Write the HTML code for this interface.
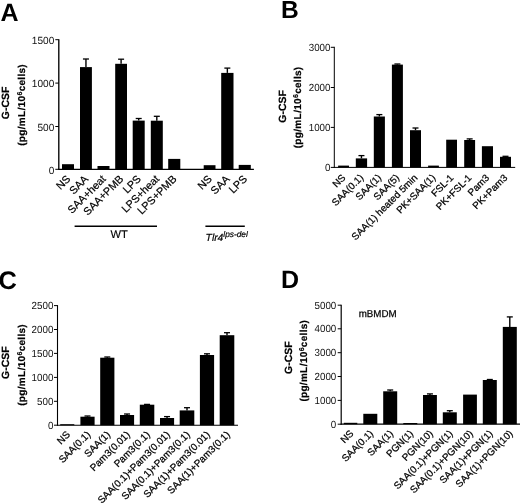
<!DOCTYPE html>
<html><head><meta charset="utf-8"><style>
html,body{margin:0;padding:0;background:#fff;}
svg{display:block;filter:blur(0.45px);}
</style></head><body>
<svg text-rendering="geometricPrecision" width="520" height="503" viewBox="0 0 520 503">
<rect width="520" height="503" fill="#fff"/>
<line x1="58.8" y1="39.2" x2="58.8" y2="169.8" stroke="#000" stroke-width="1.35"/>
<line x1="58.3" y1="169.3" x2="253.9" y2="169.3" stroke="#000" stroke-width="1.35"/>
<line x1="55.3" y1="39.7" x2="58.8" y2="39.7" stroke="#000" stroke-width="1"/>
<text transform="translate(54.3,44.0) scale(0.97,1)" font-size="10.4" text-anchor="end" font-family="Liberation Sans, sans-serif" fill="#111">1500</text>
<line x1="55.3" y1="83.1" x2="58.8" y2="83.1" stroke="#000" stroke-width="1"/>
<text transform="translate(54.3,87.39999999999999) scale(0.97,1)" font-size="10.4" text-anchor="end" font-family="Liberation Sans, sans-serif" fill="#111">1000</text>
<line x1="55.3" y1="126.5" x2="58.8" y2="126.5" stroke="#000" stroke-width="1"/>
<text transform="translate(54.3,130.8) scale(0.97,1)" font-size="10.4" text-anchor="end" font-family="Liberation Sans, sans-serif" fill="#111">500</text>
<line x1="55.3" y1="169.3" x2="58.8" y2="169.3" stroke="#000" stroke-width="1"/>
<text transform="translate(54.3,173.60000000000002) scale(0.97,1)" font-size="10.4" text-anchor="end" font-family="Liberation Sans, sans-serif" fill="#111">0</text>
<rect x="62" y="164.2" width="12" height="5.100000000000023" fill="#000"/>
<rect x="80" y="67.1" width="11.900000000000006" height="102.20000000000002" fill="#000"/>
<line x1="85.95" y1="67.1" x2="85.95" y2="59" stroke="#000" stroke-width="1.4"/>
<line x1="82.95" y1="59" x2="88.95" y2="59" stroke="#000" stroke-width="1.3"/>
<rect x="97.5" y="166" width="12.0" height="3.3000000000000114" fill="#000"/>
<rect x="115.2" y="63.8" width="11.799999999999997" height="105.50000000000001" fill="#000"/>
<line x1="121.1" y1="63.8" x2="121.1" y2="59.2" stroke="#000" stroke-width="1.4"/>
<line x1="118.1" y1="59.2" x2="124.1" y2="59.2" stroke="#000" stroke-width="1.3"/>
<rect x="132.7" y="120.6" width="12.0" height="48.70000000000002" fill="#000"/>
<line x1="138.7" y1="120.6" x2="138.7" y2="118.5" stroke="#000" stroke-width="1.4"/>
<line x1="135.7" y1="118.5" x2="141.7" y2="118.5" stroke="#000" stroke-width="1.3"/>
<rect x="150.8" y="120.7" width="12.0" height="48.60000000000001" fill="#000"/>
<line x1="156.8" y1="120.7" x2="156.8" y2="116.3" stroke="#000" stroke-width="1.4"/>
<line x1="153.8" y1="116.3" x2="159.8" y2="116.3" stroke="#000" stroke-width="1.3"/>
<rect x="168.2" y="158.9" width="12.100000000000023" height="10.400000000000006" fill="#000"/>
<rect x="203.7" y="165.2" width="11.800000000000011" height="4.100000000000023" fill="#000"/>
<rect x="221.2" y="72.9" width="12.300000000000011" height="96.4" fill="#000"/>
<line x1="227.35" y1="72.9" x2="227.35" y2="68.1" stroke="#000" stroke-width="1.4"/>
<line x1="224.35" y1="68.1" x2="230.35" y2="68.1" stroke="#000" stroke-width="1.3"/>
<rect x="238.7" y="164.9" width="12.100000000000023" height="4.400000000000006" fill="#000"/>
<text transform="translate(71.0,179.60000000000002) rotate(-45)" font-size="10.8" text-anchor="end" font-family="Liberation Sans, sans-serif" fill="#000" stroke="#000" stroke-width="0.2">NS</text>
<text transform="translate(88.95,179.60000000000002) rotate(-45)" font-size="10.8" text-anchor="end" font-family="Liberation Sans, sans-serif" fill="#000" stroke="#000" stroke-width="0.2">SAA</text>
<text transform="translate(106.5,179.60000000000002) rotate(-45)" font-size="10.8" text-anchor="end" font-family="Liberation Sans, sans-serif" fill="#000" stroke="#000" stroke-width="0.2">SAA+heat</text>
<text transform="translate(124.1,179.60000000000002) rotate(-45)" font-size="10.8" text-anchor="end" font-family="Liberation Sans, sans-serif" fill="#000" stroke="#000" stroke-width="0.2">SAA+PMB</text>
<text transform="translate(141.7,179.60000000000002) rotate(-45)" font-size="10.8" text-anchor="end" font-family="Liberation Sans, sans-serif" fill="#000" stroke="#000" stroke-width="0.2">LPS</text>
<text transform="translate(159.8,179.60000000000002) rotate(-45)" font-size="10.8" text-anchor="end" font-family="Liberation Sans, sans-serif" fill="#000" stroke="#000" stroke-width="0.2">LPS+heat</text>
<text transform="translate(177.25,179.60000000000002) rotate(-45)" font-size="10.8" text-anchor="end" font-family="Liberation Sans, sans-serif" fill="#000" stroke="#000" stroke-width="0.2">LPS+PMB</text>
<text transform="translate(212.6,179.60000000000002) rotate(-45)" font-size="10.8" text-anchor="end" font-family="Liberation Sans, sans-serif" fill="#000" stroke="#000" stroke-width="0.2">NS</text>
<text transform="translate(230.35,179.60000000000002) rotate(-45)" font-size="10.8" text-anchor="end" font-family="Liberation Sans, sans-serif" fill="#000" stroke="#000" stroke-width="0.2">SAA</text>
<text transform="translate(247.75,179.60000000000002) rotate(-45)" font-size="10.8" text-anchor="end" font-family="Liberation Sans, sans-serif" fill="#000" stroke="#000" stroke-width="0.2">LPS</text>
<text x="0.4" y="21.3" font-size="25" font-weight="bold" font-family="Liberation Sans, sans-serif" fill="#000">A</text>
<text transform="translate(8.95,102.9) rotate(-90) scale(1.0,1)" font-size="10.5" font-weight="bold" text-anchor="middle" font-family="Liberation Sans, sans-serif" fill="#000" stroke="#000" stroke-width="0.2">G-CSF</text>
<text transform="translate(24.6,104.9) rotate(-90) scale(1.0,1)" font-size="10" letter-spacing="0.3" font-weight="bold" text-anchor="middle" font-family="Liberation Sans, sans-serif" fill="#000" stroke="#000" stroke-width="0.2">(pg/mL<tspan dx="0.3">/10</tspan><tspan font-size="7.00" dy="-3.00">6</tspan><tspan dy="3.00">cells)</tspan></text>
<line x1="334.3" y1="46.8" x2="334.3" y2="167.9" stroke="#000" stroke-width="1.0"/>
<line x1="333.8" y1="167.4" x2="515.2" y2="167.4" stroke="#000" stroke-width="1.0"/>
<line x1="330.8" y1="47.3" x2="334.3" y2="47.3" stroke="#000" stroke-width="1"/>
<text transform="translate(330.5,50.699999999999996) scale(0.95,1)" font-size="10.3" text-anchor="end" font-family="Liberation Sans, sans-serif" fill="#111">3000</text>
<line x1="330.8" y1="87.5" x2="334.3" y2="87.5" stroke="#000" stroke-width="1"/>
<text transform="translate(330.5,90.9) scale(0.95,1)" font-size="10.3" text-anchor="end" font-family="Liberation Sans, sans-serif" fill="#111">2000</text>
<line x1="330.8" y1="127.4" x2="334.3" y2="127.4" stroke="#000" stroke-width="1"/>
<text transform="translate(330.5,130.8) scale(0.95,1)" font-size="10.3" text-anchor="end" font-family="Liberation Sans, sans-serif" fill="#111">1000</text>
<line x1="330.8" y1="167.4" x2="334.3" y2="167.4" stroke="#000" stroke-width="1"/>
<text transform="translate(330.5,170.8) scale(0.95,1)" font-size="10.3" text-anchor="end" font-family="Liberation Sans, sans-serif" fill="#111">0</text>
<rect x="338.1" y="165.6" width="10.899999999999977" height="1.8000000000000114" fill="#000"/>
<rect x="355.8" y="158.4" width="11.300000000000011" height="9.0" fill="#000"/>
<line x1="361.45000000000005" y1="158.4" x2="361.45000000000005" y2="155.6" stroke="#000" stroke-width="1.4"/>
<line x1="358.45000000000005" y1="155.6" x2="364.45000000000005" y2="155.6" stroke="#000" stroke-width="1.3"/>
<rect x="373.8" y="116.5" width="11.099999999999966" height="50.900000000000006" fill="#000"/>
<line x1="379.35" y1="116.5" x2="379.35" y2="114.6" stroke="#000" stroke-width="1.4"/>
<line x1="376.35" y1="114.6" x2="382.35" y2="114.6" stroke="#000" stroke-width="1.3"/>
<rect x="391.9" y="64.6" width="11.0" height="102.80000000000001" fill="#000"/>
<line x1="397.4" y1="64.6" x2="397.4" y2="64" stroke="#000" stroke-width="1.4"/>
<line x1="394.4" y1="64" x2="400.4" y2="64" stroke="#000" stroke-width="1.3"/>
<rect x="410" y="130.2" width="11" height="37.20000000000002" fill="#000"/>
<line x1="415.5" y1="130.2" x2="415.5" y2="128" stroke="#000" stroke-width="1.4"/>
<line x1="412.5" y1="128" x2="418.5" y2="128" stroke="#000" stroke-width="1.3"/>
<rect x="428.1" y="165.6" width="10.799999999999955" height="1.8000000000000114" fill="#000"/>
<rect x="446.2" y="139.7" width="10.800000000000011" height="27.700000000000017" fill="#000"/>
<rect x="464.2" y="140" width="10.900000000000034" height="27.400000000000006" fill="#000"/>
<line x1="469.65" y1="140" x2="469.65" y2="138.9" stroke="#000" stroke-width="1.4"/>
<line x1="466.65" y1="138.9" x2="472.65" y2="138.9" stroke="#000" stroke-width="1.3"/>
<rect x="481.9" y="146.2" width="11.100000000000023" height="21.200000000000017" fill="#000"/>
<rect x="500" y="156.8" width="11" height="10.599999999999994" fill="#000"/>
<line x1="505.5" y1="156.8" x2="505.5" y2="156.3" stroke="#000" stroke-width="1.4"/>
<line x1="502.5" y1="156.3" x2="508.5" y2="156.3" stroke="#000" stroke-width="1.3"/>
<text transform="translate(346.05,178.3) rotate(-45)" font-size="9.8" text-anchor="end" font-family="Liberation Sans, sans-serif" fill="#000" stroke="#000" stroke-width="0.25">NS</text>
<text transform="translate(363.95000000000005,178.3) rotate(-45)" font-size="9.8" text-anchor="end" font-family="Liberation Sans, sans-serif" fill="#000" stroke="#000" stroke-width="0.25">SAA(0.1)</text>
<text transform="translate(381.85,178.3) rotate(-45)" font-size="9.8" text-anchor="end" font-family="Liberation Sans, sans-serif" fill="#000" stroke="#000" stroke-width="0.25">SAA(1)</text>
<text transform="translate(399.9,178.3) rotate(-45)" font-size="9.8" text-anchor="end" font-family="Liberation Sans, sans-serif" fill="#000" stroke="#000" stroke-width="0.25">SAA(5)</text>
<text transform="translate(418.0,178.3) rotate(-45)" font-size="9.8" text-anchor="end" font-family="Liberation Sans, sans-serif" fill="#000" stroke="#000" stroke-width="0.25">SAA(1) heated 5min</text>
<text transform="translate(436.0,178.3) rotate(-45)" font-size="9.8" text-anchor="end" font-family="Liberation Sans, sans-serif" fill="#000" stroke="#000" stroke-width="0.25">PK+SAA(1)</text>
<text transform="translate(454.1,178.3) rotate(-45)" font-size="9.8" text-anchor="end" font-family="Liberation Sans, sans-serif" fill="#000" stroke="#000" stroke-width="0.25">FSL-1</text>
<text transform="translate(472.15,178.3) rotate(-45)" font-size="9.8" text-anchor="end" font-family="Liberation Sans, sans-serif" fill="#000" stroke="#000" stroke-width="0.25">PK+FSL-1</text>
<text transform="translate(489.95,178.3) rotate(-45)" font-size="9.8" text-anchor="end" font-family="Liberation Sans, sans-serif" fill="#000" stroke="#000" stroke-width="0.25">Pam3</text>
<text transform="translate(508.0,178.3) rotate(-45)" font-size="9.8" text-anchor="end" font-family="Liberation Sans, sans-serif" fill="#000" stroke="#000" stroke-width="0.25">PK+Pam3</text>
<text x="281" y="17.9" font-size="24.6" font-weight="bold" font-family="Liberation Sans, sans-serif" fill="#000">B</text>
<text transform="translate(285.5,106.3) rotate(-90) scale(1.0,1)" font-size="10.5" font-weight="bold" text-anchor="middle" font-family="Liberation Sans, sans-serif" fill="#000" stroke="#000" stroke-width="0.2">G-CSF</text>
<text transform="translate(301.0,107.4) rotate(-90) scale(1.0,1)" font-size="10" letter-spacing="0.3" font-weight="bold" text-anchor="middle" font-family="Liberation Sans, sans-serif" fill="#000" stroke="#000" stroke-width="0.2">(pg/mL<tspan dx="0.3">/10</tspan><tspan font-size="7.00" dy="-3.00">6</tspan><tspan dy="3.00">cells)</tspan></text>
<line x1="57.5" y1="305.1" x2="57.5" y2="425.7" stroke="#000" stroke-width="1.1"/>
<line x1="57.0" y1="425.2" x2="238" y2="425.2" stroke="#000" stroke-width="1.1"/>
<line x1="54.0" y1="305.6" x2="57.5" y2="305.6" stroke="#000" stroke-width="1"/>
<text transform="translate(53.4,309.40000000000003) scale(0.95,1)" font-size="10.3" text-anchor="end" font-family="Liberation Sans, sans-serif" fill="#111">2500</text>
<line x1="54.0" y1="329.5" x2="57.5" y2="329.5" stroke="#000" stroke-width="1"/>
<text transform="translate(53.4,333.3) scale(0.95,1)" font-size="10.3" text-anchor="end" font-family="Liberation Sans, sans-serif" fill="#111">2000</text>
<line x1="54.0" y1="353.4" x2="57.5" y2="353.4" stroke="#000" stroke-width="1"/>
<text transform="translate(53.4,357.2) scale(0.95,1)" font-size="10.3" text-anchor="end" font-family="Liberation Sans, sans-serif" fill="#111">1500</text>
<line x1="54.0" y1="377.4" x2="57.5" y2="377.4" stroke="#000" stroke-width="1"/>
<text transform="translate(53.4,381.2) scale(0.95,1)" font-size="10.3" text-anchor="end" font-family="Liberation Sans, sans-serif" fill="#111">1000</text>
<line x1="54.0" y1="401.3" x2="57.5" y2="401.3" stroke="#000" stroke-width="1"/>
<text transform="translate(53.4,405.1) scale(0.95,1)" font-size="10.3" text-anchor="end" font-family="Liberation Sans, sans-serif" fill="#111">500</text>
<line x1="54.0" y1="425.2" x2="57.5" y2="425.2" stroke="#000" stroke-width="1"/>
<text transform="translate(53.4,429.0) scale(0.95,1)" font-size="10.3" text-anchor="end" font-family="Liberation Sans, sans-serif" fill="#111">0</text>
<rect x="60.2" y="424.2" width="14.099999999999994" height="1.0" fill="#000"/>
<rect x="80.4" y="416.7" width="14.199999999999989" height="8.5" fill="#000"/>
<line x1="87.5" y1="416.7" x2="87.5" y2="416" stroke="#000" stroke-width="1.4"/>
<line x1="84.5" y1="416" x2="90.5" y2="416" stroke="#000" stroke-width="1.3"/>
<rect x="100.2" y="357.7" width="14.200000000000003" height="67.5" fill="#000"/>
<line x1="107.30000000000001" y1="357.7" x2="107.30000000000001" y2="357" stroke="#000" stroke-width="1.4"/>
<line x1="104.30000000000001" y1="357" x2="110.30000000000001" y2="357" stroke="#000" stroke-width="1.3"/>
<rect x="120" y="415" width="14.099999999999994" height="10.199999999999989" fill="#000"/>
<line x1="127.05" y1="415" x2="127.05" y2="414" stroke="#000" stroke-width="1.4"/>
<line x1="124.05" y1="414" x2="130.05" y2="414" stroke="#000" stroke-width="1.3"/>
<rect x="139.8" y="404.7" width="14.5" height="20.5" fill="#000"/>
<line x1="147.05" y1="404.7" x2="147.05" y2="404.4" stroke="#000" stroke-width="1.4"/>
<line x1="144.05" y1="404.4" x2="150.05" y2="404.4" stroke="#000" stroke-width="1.3"/>
<rect x="160" y="418" width="14.099999999999994" height="7.199999999999989" fill="#000"/>
<line x1="167.05" y1="418" x2="167.05" y2="416.6" stroke="#000" stroke-width="1.4"/>
<line x1="164.05" y1="416.6" x2="170.05" y2="416.6" stroke="#000" stroke-width="1.3"/>
<rect x="179.7" y="410.4" width="14.600000000000023" height="14.800000000000011" fill="#000"/>
<line x1="187.0" y1="410.4" x2="187.0" y2="407.7" stroke="#000" stroke-width="1.4"/>
<line x1="184.0" y1="407.7" x2="190.0" y2="407.7" stroke="#000" stroke-width="1.3"/>
<rect x="199.9" y="355" width="14.199999999999989" height="70.19999999999999" fill="#000"/>
<line x1="207.0" y1="355" x2="207.0" y2="353.8" stroke="#000" stroke-width="1.4"/>
<line x1="204.0" y1="353.8" x2="210.0" y2="353.8" stroke="#000" stroke-width="1.3"/>
<rect x="219.7" y="335.2" width="14.600000000000023" height="90.0" fill="#000"/>
<line x1="227.0" y1="335.2" x2="227.0" y2="332.7" stroke="#000" stroke-width="1.4"/>
<line x1="224.0" y1="332.7" x2="230.0" y2="332.7" stroke="#000" stroke-width="1.3"/>
<text transform="translate(70.75,435.2) rotate(-45)" font-size="9.9" text-anchor="end" font-family="Liberation Sans, sans-serif" fill="#000" stroke="#000" stroke-width="0.25">NS</text>
<text transform="translate(91.0,435.2) rotate(-45)" font-size="9.9" text-anchor="end" font-family="Liberation Sans, sans-serif" fill="#000" stroke="#000" stroke-width="0.25">SAA(0.1)</text>
<text transform="translate(110.80000000000001,435.2) rotate(-45)" font-size="9.9" text-anchor="end" font-family="Liberation Sans, sans-serif" fill="#000" stroke="#000" stroke-width="0.25">SAA(1)</text>
<text transform="translate(130.55,435.2) rotate(-45)" font-size="9.9" text-anchor="end" font-family="Liberation Sans, sans-serif" fill="#000" stroke="#000" stroke-width="0.25">Pam3(0.01)</text>
<text transform="translate(150.55,435.2) rotate(-45)" font-size="9.9" text-anchor="end" font-family="Liberation Sans, sans-serif" fill="#000" stroke="#000" stroke-width="0.25">Pam3(0.1)</text>
<text transform="translate(170.55,435.2) rotate(-45)" font-size="9.9" text-anchor="end" font-family="Liberation Sans, sans-serif" fill="#000" stroke="#000" stroke-width="0.25">SAA(0.1)+Pam3(0.01)</text>
<text transform="translate(190.5,435.2) rotate(-45)" font-size="9.9" text-anchor="end" font-family="Liberation Sans, sans-serif" fill="#000" stroke="#000" stroke-width="0.25">SAA(0.1)+Pam3(0.1)</text>
<text transform="translate(210.5,435.2) rotate(-45)" font-size="9.9" text-anchor="end" font-family="Liberation Sans, sans-serif" fill="#000" stroke="#000" stroke-width="0.25">SAA(1)+Pam3(0.01)</text>
<text transform="translate(230.5,435.2) rotate(-45)" font-size="9.9" text-anchor="end" font-family="Liberation Sans, sans-serif" fill="#000" stroke="#000" stroke-width="0.25">SAA(1)+Pam3(0.1)</text>
<text x="-1.6" y="288.6" font-size="25.4" font-weight="bold" font-family="Liberation Sans, sans-serif" fill="#000">C</text>
<text transform="translate(8.9,362.6) rotate(-90) scale(1.0,1)" font-size="10.5" font-weight="bold" text-anchor="middle" font-family="Liberation Sans, sans-serif" fill="#000" stroke="#000" stroke-width="0.2">G-CSF</text>
<text transform="translate(24.6,364.9) rotate(-90) scale(1.0,1)" font-size="10" letter-spacing="0.3" font-weight="bold" text-anchor="middle" font-family="Liberation Sans, sans-serif" fill="#000" stroke="#000" stroke-width="0.2">(pg/mL<tspan dx="0.3">/10</tspan><tspan font-size="7.00" dy="-3.00">6</tspan><tspan dy="3.00">cells)</tspan></text>
<line x1="341.2" y1="304.8" x2="341.2" y2="424.7" stroke="#000" stroke-width="1.2"/>
<line x1="340.7" y1="424.2" x2="520" y2="424.2" stroke="#000" stroke-width="1.2"/>
<line x1="337.7" y1="305.2" x2="341.2" y2="305.2" stroke="#000" stroke-width="1"/>
<text transform="translate(336.3,308.8) scale(0.95,1)" font-size="10.3" text-anchor="end" font-family="Liberation Sans, sans-serif" fill="#111">5000</text>
<line x1="337.7" y1="328.8" x2="341.2" y2="328.8" stroke="#000" stroke-width="1"/>
<text transform="translate(336.3,332.40000000000003) scale(0.95,1)" font-size="10.3" text-anchor="end" font-family="Liberation Sans, sans-serif" fill="#111">4000</text>
<line x1="337.7" y1="352.7" x2="341.2" y2="352.7" stroke="#000" stroke-width="1"/>
<text transform="translate(336.3,356.3) scale(0.95,1)" font-size="10.3" text-anchor="end" font-family="Liberation Sans, sans-serif" fill="#111">3000</text>
<line x1="337.7" y1="376.5" x2="341.2" y2="376.5" stroke="#000" stroke-width="1"/>
<text transform="translate(336.3,380.1) scale(0.95,1)" font-size="10.3" text-anchor="end" font-family="Liberation Sans, sans-serif" fill="#111">2000</text>
<line x1="337.7" y1="400.4" x2="341.2" y2="400.4" stroke="#000" stroke-width="1"/>
<text transform="translate(336.3,404.0) scale(0.95,1)" font-size="10.3" text-anchor="end" font-family="Liberation Sans, sans-serif" fill="#111">1000</text>
<line x1="337.7" y1="424.2" x2="341.2" y2="424.2" stroke="#000" stroke-width="1"/>
<text transform="translate(336.3,427.8) scale(0.95,1)" font-size="10.3" text-anchor="end" font-family="Liberation Sans, sans-serif" fill="#111">0</text>
<rect x="343.8" y="422.8" width="13.5" height="1.3999999999999773" fill="#000"/>
<rect x="363.3" y="413.8" width="14.0" height="10.399999999999977" fill="#000"/>
<rect x="383.2" y="391.3" width="14.0" height="32.89999999999998" fill="#000"/>
<line x1="390.2" y1="391.3" x2="390.2" y2="390" stroke="#000" stroke-width="1.4"/>
<line x1="387.2" y1="390" x2="393.2" y2="390" stroke="#000" stroke-width="1.3"/>
<rect x="403.3" y="423" width="14.0" height="1.1999999999999886" fill="#000"/>
<rect x="423.0" y="395" width="13.899999999999977" height="29.19999999999999" fill="#000"/>
<line x1="429.95" y1="395" x2="429.95" y2="393.9" stroke="#000" stroke-width="1.4"/>
<line x1="426.95" y1="393.9" x2="432.95" y2="393.9" stroke="#000" stroke-width="1.3"/>
<rect x="442.8" y="412.3" width="14.0" height="11.899999999999977" fill="#000"/>
<line x1="449.8" y1="412.3" x2="449.8" y2="410.7" stroke="#000" stroke-width="1.4"/>
<line x1="446.8" y1="410.7" x2="452.8" y2="410.7" stroke="#000" stroke-width="1.3"/>
<rect x="463.1" y="394.6" width="13.799999999999955" height="29.599999999999966" fill="#000"/>
<rect x="482.8" y="380" width="14.0" height="44.19999999999999" fill="#000"/>
<line x1="489.8" y1="380" x2="489.8" y2="379.5" stroke="#000" stroke-width="1.4"/>
<line x1="486.8" y1="379.5" x2="492.8" y2="379.5" stroke="#000" stroke-width="1.3"/>
<rect x="502.8" y="326.9" width="13.999999999999943" height="97.30000000000001" fill="#000"/>
<line x1="509.79999999999995" y1="326.9" x2="509.79999999999995" y2="316.9" stroke="#000" stroke-width="1.4"/>
<line x1="506.79999999999995" y1="316.9" x2="512.8" y2="316.9" stroke="#000" stroke-width="1.3"/>
<text transform="translate(354.05,434.2) rotate(-45)" font-size="9.8" text-anchor="end" font-family="Liberation Sans, sans-serif" fill="#000" stroke="#000" stroke-width="0.25">NS</text>
<text transform="translate(373.8,434.2) rotate(-45)" font-size="9.8" text-anchor="end" font-family="Liberation Sans, sans-serif" fill="#000" stroke="#000" stroke-width="0.25">SAA(0.1)</text>
<text transform="translate(393.7,434.2) rotate(-45)" font-size="9.8" text-anchor="end" font-family="Liberation Sans, sans-serif" fill="#000" stroke="#000" stroke-width="0.25">SAA(1)</text>
<text transform="translate(413.8,434.2) rotate(-45)" font-size="9.8" text-anchor="end" font-family="Liberation Sans, sans-serif" fill="#000" stroke="#000" stroke-width="0.25">PGN(1)</text>
<text transform="translate(433.45,434.2) rotate(-45)" font-size="9.8" text-anchor="end" font-family="Liberation Sans, sans-serif" fill="#000" stroke="#000" stroke-width="0.25">PGN(10)</text>
<text transform="translate(453.3,434.2) rotate(-45)" font-size="9.8" text-anchor="end" font-family="Liberation Sans, sans-serif" fill="#000" stroke="#000" stroke-width="0.25">SAA(0.1)+PGN(1)</text>
<text transform="translate(473.5,434.2) rotate(-45)" font-size="9.8" text-anchor="end" font-family="Liberation Sans, sans-serif" fill="#000" stroke="#000" stroke-width="0.25">SAA(0.1)+PGN(10)</text>
<text transform="translate(493.3,434.2) rotate(-45)" font-size="9.8" text-anchor="end" font-family="Liberation Sans, sans-serif" fill="#000" stroke="#000" stroke-width="0.25">SAA(1)+PGN(1)</text>
<text transform="translate(513.3,434.2) rotate(-45)" font-size="9.8" text-anchor="end" font-family="Liberation Sans, sans-serif" fill="#000" stroke="#000" stroke-width="0.25">SAA(1)+PGN(10)</text>
<text x="281.1" y="287.7" font-size="25" font-weight="bold" font-family="Liberation Sans, sans-serif" fill="#000">D</text>
<text transform="translate(291.7,357.7) rotate(-90) scale(1.0,1)" font-size="10.5" font-weight="bold" text-anchor="middle" font-family="Liberation Sans, sans-serif" fill="#000" stroke="#000" stroke-width="0.2">G-CSF</text>
<text transform="translate(306.5,360.7) rotate(-90) scale(1.0,1)" font-size="10" letter-spacing="0.3" font-weight="bold" text-anchor="middle" font-family="Liberation Sans, sans-serif" fill="#000" stroke="#000" stroke-width="0.2">(pg/mL<tspan dx="0.3">/10</tspan><tspan font-size="7.00" dy="-3.00">6</tspan><tspan dy="3.00">cells)</tspan></text>
<line x1="74.6" y1="226.2" x2="157" y2="226.2" stroke="#000" stroke-width="1.6"/>
<line x1="205.4" y1="226.2" x2="244.8" y2="226.2" stroke="#000" stroke-width="1.6"/>
<text x="119.2" y="237.8" font-size="11.2" text-anchor="middle" font-family="Liberation Sans, sans-serif" fill="#000" stroke="#000" stroke-width="0.15">WT</text>
<text x="205.6" y="240.9" font-size="10.3" font-style="italic" font-family="Liberation Sans, sans-serif" fill="#000" stroke="#000" stroke-width="0.2">Tlr4<tspan font-size="8.3" dy="-4.4" dx="0">lps-del</tspan></text>
<text transform="translate(358.7,316.6) scale(0.975,1)" font-size="10" font-family="Liberation Sans, sans-serif" fill="#000" stroke="#000" stroke-width="0.25">mBMDM</text>
</svg>
</body></html>
